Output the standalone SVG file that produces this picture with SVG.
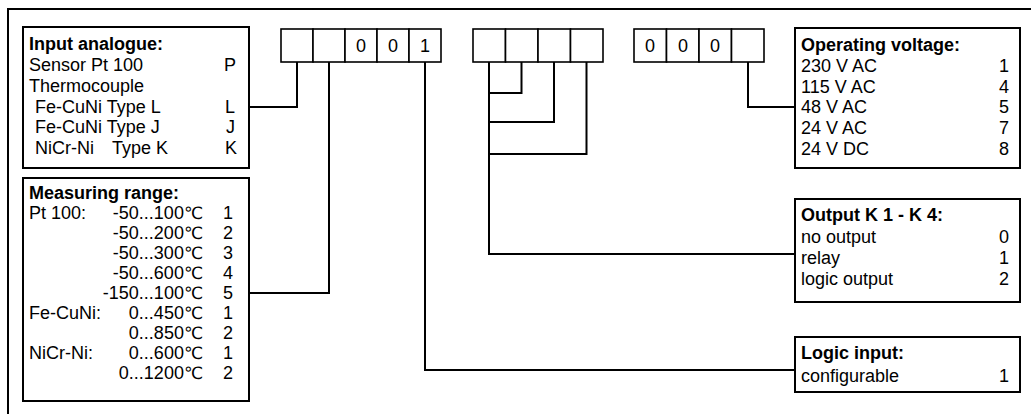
<svg xmlns="http://www.w3.org/2000/svg" width="1031" height="414" viewBox="0 0 1031 414">
<style>
  .box{fill:#fff;stroke:#000;stroke-width:2}
  .cell{fill:#fff;stroke:#000;stroke-width:1.6}
  .wire{fill:none;stroke:#000;stroke-width:2}
  text{font-family:"Liberation Sans","DejaVu Sans",Arial,sans-serif;font-size:18px;fill:#000}
  .b{font-weight:bold}
  .e{text-anchor:end}
  .m{text-anchor:middle}
  .deg{font-family:"DejaVu Sans","Liberation Sans",sans-serif;font-size:17px}
</style>
<rect width="1031" height="414" fill="#fff"/>
<polyline class="wire" points="8,414 8,9 1031,9"/>

<g id="connectors">
  <polyline class="wire" points="249,107 297,107 297,62"/>
  <polyline class="wire" points="249,293 329,293 329,62"/>
  <polyline class="wire" points="425,62 425,370 795,370"/>
  <polyline class="wire" points="489,62 489,254 795,254"/>
  <polyline class="wire" points="521.5,62 521.5,93 489,93"/>
  <polyline class="wire" points="554,62 554,122 489,122"/>
  <polyline class="wire" points="586.5,62 586.5,154 489,154"/>
  <polyline class="wire" points="748,62 748,107 795,107"/>
</g>

<g id="code-group-1">
  <rect class="cell" x="281" y="29" width="32" height="33"/>
  <rect class="cell" x="313" y="29" width="32" height="33"/>
  <rect class="cell" x="345" y="29" width="32" height="33"/>
  <rect class="cell" x="377" y="29" width="32" height="33"/>
  <rect class="cell" x="409" y="29" width="32" height="33"/>
  <text class="m" x="361" y="52">0</text>
  <text class="m" x="393" y="52">0</text>
  <text class="m" x="425" y="52">1</text>
</g>
<g id="code-group-2">
  <rect class="cell" x="473" y="29" width="32.5" height="33"/>
  <rect class="cell" x="505.5" y="29" width="32.5" height="33"/>
  <rect class="cell" x="538" y="29" width="32.5" height="33"/>
  <rect class="cell" x="570.5" y="29" width="32.5" height="33"/>
</g>
<g id="code-group-3">
  <rect class="cell" x="634" y="29" width="32.5" height="33"/>
  <rect class="cell" x="666.5" y="29" width="32.5" height="33"/>
  <rect class="cell" x="699" y="29" width="32.5" height="33"/>
  <rect class="cell" x="731.5" y="29" width="32.5" height="33"/>
  <text class="m" x="650" y="52">0</text>
  <text class="m" x="683" y="52">0</text>
  <text class="m" x="715" y="52">0</text>
</g>

<g id="input-analogue">
  <rect class="box" x="23" y="27" width="226" height="141"/>
  <text class="b" x="29" y="50">Input analogue:</text>
  <text x="29" y="71">Sensor Pt 100</text><text class="e" x="236" y="71">P</text>
  <text x="29" y="92">Thermocouple</text>
  <text x="35" y="112.5">Fe-CuNi Type L</text><text class="e" x="235" y="112.5">L</text>
  <text x="35" y="133">Fe-CuNi Type J</text><text class="e" x="235" y="133">J</text>
  <text x="35" y="154">NiCr-Ni</text><text x="112" y="154">Type K</text><text class="e" x="237" y="154">K</text>
</g>

<g id="measuring-range">
  <rect class="box" x="23" y="178" width="226" height="223"/>
  <text class="b" x="29" y="199">Measuring range:</text>
  <text x="29" y="219">Pt 100:</text>
  <text class="e" x="203" y="219">-50...100<tspan class="deg">℃</tspan></text><text class="e" x="233" y="219">1</text>
  <text class="e" x="203" y="239">-50...200<tspan class="deg">℃</tspan></text><text class="e" x="233" y="239">2</text>
  <text class="e" x="203" y="259">-50...300<tspan class="deg">℃</tspan></text><text class="e" x="233" y="259">3</text>
  <text class="e" x="203" y="279">-50...600<tspan class="deg">℃</tspan></text><text class="e" x="233" y="279">4</text>
  <text class="e" x="203" y="299">-150...100<tspan class="deg">℃</tspan></text><text class="e" x="233" y="299">5</text>
  <text x="29" y="319">Fe-CuNi:</text>
  <text class="e" x="203" y="319">0...450<tspan class="deg">℃</tspan></text><text class="e" x="233" y="319">1</text>
  <text class="e" x="203" y="339">0...850<tspan class="deg">℃</tspan></text><text class="e" x="233" y="339">2</text>
  <text x="29" y="359">NiCr-Ni:</text>
  <text class="e" x="203" y="359">0...600<tspan class="deg">℃</tspan></text><text class="e" x="233" y="359">1</text>
  <text class="e" x="203" y="379">0...1200<tspan class="deg">℃</tspan></text><text class="e" x="233" y="379">2</text>
</g>

<g id="operating-voltage">
  <rect class="box" x="795" y="28" width="225" height="140"/>
  <text class="b" x="801" y="51">Operating voltage:</text>
  <text x="801" y="72">230 V AC</text><text class="e" x="1009" y="72">1</text>
  <text x="801" y="92.5">115 V AC</text><text class="e" x="1009" y="92.5">4</text>
  <text x="801" y="113">48 V AC</text><text class="e" x="1009" y="113">5</text>
  <text x="801" y="134">24 V AC</text><text class="e" x="1009" y="134">7</text>
  <text x="801" y="154.5">24 V DC</text><text class="e" x="1009" y="154.5">8</text>
</g>

<g id="output-k">
  <rect class="box" x="795" y="199" width="225" height="103"/>
  <text class="b" x="801" y="221">Output K 1 - K 4:</text>
  <text x="801" y="243">no output</text><text class="e" x="1009" y="243">0</text>
  <text x="801" y="264">relay</text><text class="e" x="1009" y="264">1</text>
  <text x="801" y="285">logic output</text><text class="e" x="1009" y="285">2</text>
</g>

<g id="logic-input">
  <rect class="box" x="795" y="337" width="225" height="55"/>
  <text class="b" x="801" y="359">Logic input:</text>
  <text x="801" y="382">configurable</text><text class="e" x="1009" y="382">1</text>
</g>
</svg>
